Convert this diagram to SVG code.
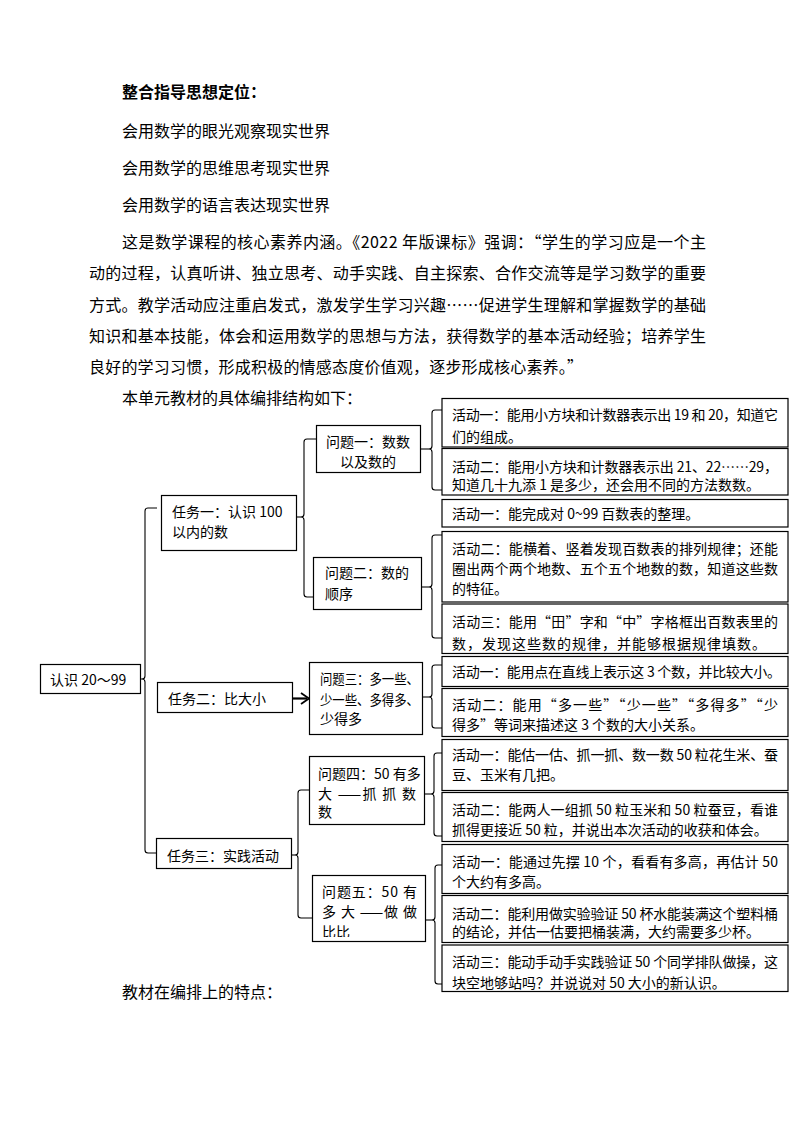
<svg xmlns="http://www.w3.org/2000/svg" width="794" height="1123" viewBox="0 0 794 1123">
<style>
text{font-family:"Noto Sans CJK SC","Noto Sans",sans-serif;fill:#000}
.b{font-size:16px}
.t{font-size:16px;font-weight:bold}
.s{font-size:14px}
.box{fill:#fff;stroke:#000;stroke-width:1.2}
.br{fill:none;stroke:#000;stroke-width:1.1}
</style>
<defs>
<clipPath id="clip5"><rect x="312" y="876" width="114" height="61"/></clipPath>
</defs>
<rect width="794" height="1123" fill="#fff"/>
<g id="body-text">
<text class="t" x="122" y="98">整合指导思想定位：</text>
<text class="b" x="122" y="137">会用数学的眼光观察现实世界</text>
<text class="b" x="122" y="174">会用数学的思维思考现实世界</text>
<text class="b" x="122" y="211">会用数学的语言表达现实世界</text>
<text class="b" x="122" y="248" textLength="584" lengthAdjust="spacing">这是数学课程的核心素养内涵。《2022 年版课标》强调：“学生的学习应是一个主</text>
<text class="b" x="89" y="279" textLength="617" lengthAdjust="spacing">动的过程，认真听讲、独立思考、动手实践、自主探索、合作交流等是学习数学的重要</text>
<text class="b" x="89" y="311" textLength="617" lengthAdjust="spacing">方式。教学活动应注重启发式，激发学生学习兴趣……促进学生理解和掌握数学的基础</text>
<text class="b" x="89" y="342" textLength="617" lengthAdjust="spacing">知识和基本技能，体会和运用数学的思想与方法，获得数学的基本活动经验；培养学生</text>
<text class="b" x="89" y="373" textLength="494" lengthAdjust="spacing">良好的学习习惯，形成积极的情感态度价值观，逐步形成核心素养。”</text>
<text class="b" x="122" y="404">本单元教材的具体编排结构如下：</text>
<text class="b" x="122" y="998">教材在编排上的特点：</text>
</g>
<g id="connectors">
<path class="br" d="M157,508 H148 Q145,508 145,511 V676 Q145,679 142,679 M142,679 Q145,679 145,682 V850 Q145,853 148,853 H157"/>
<path class="br" d="M141,679 H142"/>
<path class="br" d="M316,439 H307 Q304,439 304,442 V514 Q304,517 301,517 M301,517 Q304,517 304,520 V594 Q304,597 307,597 H313"/>
<path class="br" d="M297,517 H301"/>
<path class="br" d="M442,410 H435 Q432,410 432,413 V446 Q432,449 429,449 M429,449 Q432,449 432,452 V487 Q432,490 435,490 H442"/>
<path class="br" d="M420,449 H429"/>
<path class="br" d="M442,535 H435 Q432,535 432,538 V584 Q432,587 429,587 M429,587 Q432,587 432,590 V635 Q432,638 435,638 H442"/>
<path class="br" d="M422,587 H429"/>
<path class="br" d="M442,665 H435 Q432,665 432,668 V694 Q432,697 429,697 M429,697 Q432,697 432,700 V725 Q432,728 435,728 H442"/>
<path class="br" d="M423,697 H429"/>
<path class="br" d="M309,790 H301 Q298,790 298,793 V852 Q298,855 295,855 M295,855 Q298,855 298,858 V915 Q298,918 301,918 H313"/>
<path class="br" d="M292,855 H295"/>
<path class="br" d="M443,753 H437 Q434,753 434,756 V791 Q434,794 431,794 M431,794 Q434,794 434,797 V833 Q434,836 437,836 H443"/>
<path class="br" d="M425,794 H431"/>
<path class="br" d="M443,865 H438 Q435,865 435,868 V917 Q435,920 432,920 M432,920 Q435,920 435,923 V981 Q435,984 438,984 H443"/>
<path class="br" d="M426,920 H432"/>
<path d="M292.5,698.5 H307" stroke="#000" stroke-width="2.2" fill="none"/>
<polyline points="301,693 309,698.5 301,704" stroke="#000" stroke-width="1.8" fill="none"/>
</g>
<g id="root">
<rect class="box" x="40.5" y="664.5" width="100" height="29"/>
<text class="s" x="50" y="684.5">认识 20～99</text>
</g>
<g id="task1">
<rect class="box" x="161.5" y="495.5" width="135" height="55"/>
<text class="s" x="172" y="517">任务一：认识 100</text>
<text class="s" x="172" y="536.5">以内的数</text>
</g>
<g id="task2">
<rect class="box" x="157.5" y="682.5" width="135" height="30"/>
<text class="s" x="168" y="703.5">任务二：比大小</text>
</g>
<g id="task3">
<rect class="box" x="156.5" y="838.5" width="135" height="30"/>
<text class="s" x="167" y="860.5">任务三：实践活动</text>
</g>
<g id="q1">
<rect class="box" x="316.5" y="425.5" width="104" height="47"/>
<text class="s" x="368" y="447" text-anchor="middle">问题一：数数</text>
<text class="s" x="368" y="467" text-anchor="middle">以及数的</text>
</g>
<g id="q2">
<rect class="box" x="313.5" y="557.5" width="108" height="52"/>
<text class="s" x="325" y="578">问题二：数的</text>
<text class="s" x="325" y="598.5">顺序</text>
</g>
<g id="q3">
<rect class="box" x="309.5" y="662.5" width="113" height="72"/>
<text class="s" x="320" y="683.5" textLength="99" lengthAdjust="spacingAndGlyphs">问题三：多一些、</text>
<text class="s" x="320" y="704.5" textLength="99" lengthAdjust="spacingAndGlyphs">少一些、多得多、</text>
<text class="s" x="320" y="723.5">少得多</text>
</g>
<g id="q4">
<rect class="box" x="309.5" y="756.5" width="115" height="68"/>
<text class="s" x="318" y="778.5">问题四：50 有多</text>
<text class="s" x="318" y="798.5" textLength="98" lengthAdjust="spacing">大 ——抓 抓 数</text>
<text class="s" x="318" y="817">数</text>
</g>
<g id="q5">
<rect class="box" x="312.5" y="875.5" width="113" height="66"/>
<text class="s" x="322" y="897" textLength="95" lengthAdjust="spacing">问题五：50 有</text>
<text class="s" x="322" y="917" textLength="95" lengthAdjust="spacing">多 大 ——做 做</text>
<text class="s" x="322" y="937" clip-path="url(#clip5)">比比</text>
</g>
<g id="a1-1">
<rect class="box" x="442" y="398.5" width="346" height="48.5"/>
<text class="s" x="452" y="420.3" textLength="326" lengthAdjust="spacing">活动一：能用小方块和计数器表示出 19 和 20，知道它</text>
<text class="s" x="452" y="442">们的组成。</text>
</g>
<g id="a1-2">
<rect class="box" x="442" y="448.5" width="346" height="46.5"/>
<text class="s" x="452" y="472" textLength="326" lengthAdjust="spacing">活动二：能用小方块和计数器表示出 21、22……29，</text>
<text class="s" x="452" y="490.3">知道几十九添 1 是多少，还会用不同的方法数数。</text>
</g>
<g id="a2-1">
<rect class="box" x="442" y="499.5" width="346" height="27.5"/>
<text class="s" x="452" y="518.6">活动一：能完成对 0~99 百数表的整理。</text>
</g>
<g id="a2-2">
<rect class="box" x="442" y="531.5" width="346" height="70.5"/>
<text class="s" x="452" y="553.6" textLength="326" lengthAdjust="spacing">活动二：能横着、竖着发现百数表的排列规律；还能</text>
<text class="s" x="452" y="573.6" textLength="326" lengthAdjust="spacing">圈出两个两个地数、五个五个地数的数，知道这些数</text>
<text class="s" x="452" y="593.6">的特征。</text>
</g>
<g id="a2-3">
<rect class="box" x="442" y="604" width="346" height="49.5"/>
<text class="s" x="452" y="627" textLength="326" lengthAdjust="spacing">活动三：能用“田”字和“中”字格框出百数表里的</text>
<text class="s" x="452" y="648.6" textLength="314" lengthAdjust="spacing">数，发现这些数的规律，并能够根据规律填数。</text>
</g>
<g id="a3-1">
<rect class="box" x="442" y="656.5" width="346" height="30"/>
<text class="s" x="452" y="677" textLength="329" lengthAdjust="spacing">活动一：能用点在直线上表示这 3 个数，并比较大小。</text>
</g>
<g id="a3-2">
<rect class="box" x="442" y="688.5" width="346" height="48"/>
<text class="s" x="452" y="710.3" textLength="326" lengthAdjust="spacing">活动二：能用“多一些”“少一些”“多得多”“少</text>
<text class="s" x="452" y="730.3">得多”等词来描述这 3 个数的大小关系。</text>
</g>
<g id="a4-1">
<rect class="box" x="442" y="739.5" width="346" height="51"/>
<text class="s" x="452" y="760.3" textLength="326" lengthAdjust="spacing">活动一：能估一估、抓一抓、数一数 50 粒花生米、蚕</text>
<text class="s" x="452" y="780.3">豆、玉米有几把。</text>
</g>
<g id="a4-2">
<rect class="box" x="442" y="792.5" width="346" height="49"/>
<text class="s" x="452" y="815.3" textLength="326" lengthAdjust="spacing">活动二：能两人一组抓 50 粒玉米和 50 粒蚕豆，看谁</text>
<text class="s" x="452" y="835.3">抓得更接近 50 粒，并说出本次活动的收获和体会。</text>
</g>
<g id="a5-1">
<rect class="box" x="442" y="844.5" width="346" height="49"/>
<text class="s" x="452" y="867" textLength="326" lengthAdjust="spacing">活动一：能通过先摆 10 个，看看有多高，再估计 50</text>
<text class="s" x="452" y="887">个大约有多高。</text>
</g>
<g id="a5-2">
<rect class="box" x="442" y="895.5" width="346" height="47"/>
<text class="s" x="452" y="918.6" textLength="326" lengthAdjust="spacing">活动二：能利用做实验验证 50 杯水能装满这个塑料桶</text>
<text class="s" x="452" y="937">的结论，并估一估要把桶装满，大约需要多少杯。</text>
</g>
<g id="a5-3">
<rect class="box" x="442" y="945" width="346" height="46.5"/>
<text class="s" x="452" y="967" textLength="326" lengthAdjust="spacing">活动三：能动手动手实践验证 50 个同学排队做操，这</text>
<text class="s" x="452" y="988">块空地够站吗？并说说对 50 大小的新认识。</text>
</g>
</svg>
